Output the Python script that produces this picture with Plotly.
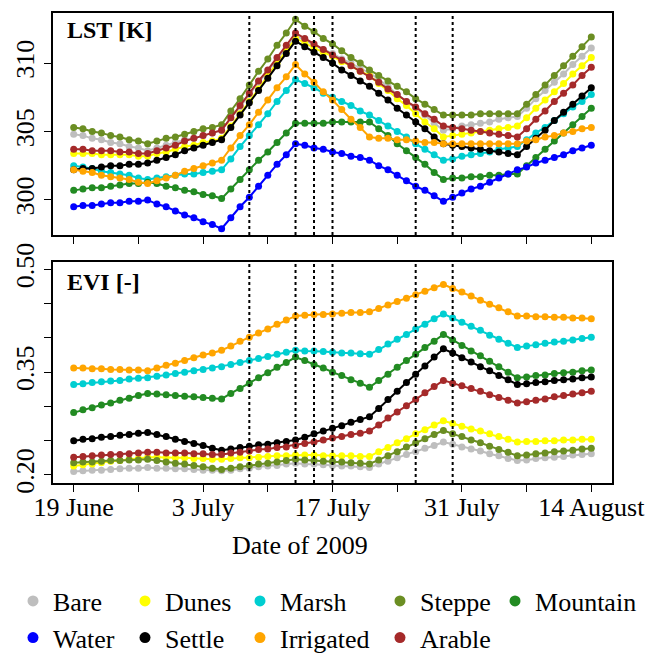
import pandas as pd
import plotly.graph_objects as go

# ---- time axis -------------------------------------------------------------
start = "2009-06-19"
end = "2009-08-14"
dates = pd.date_range(start, end, freq="D")

classes = ["Bare", "Dunes", "Marsh", "Steppe", "Mountain",
           "Water", "Settle", "Irrigated", "Arable"]
colors = ["#BEBEBE", "#FFFF00", "#00CED1", "#6B8E23", "#228B22",
          "#0000FF", "#000000", "#FFA500", "#A52A2A"]

# ---- land surface temperature [K], daily -----------------------------------
lst_bare = [304.8, 304.7, 304.5, 304.4, 304.2, 304.1, 303.9, 303.8,
            303.6, 303.8, 304.0, 304.2, 304.4, 304.5, 304.7, 304.9,
            305.1, 306.0, 306.8, 307.7, 308.6, 309.4, 310.3, 311.1,
            312.0, 311.7, 311.3, 311.0, 310.7, 310.3, 310.0, 309.6,
            309.3, 308.8, 308.3, 307.7, 307.2, 306.7, 306.2, 305.6,
            305.1, 305.2, 305.4, 305.5, 305.6, 305.7, 305.9, 306.0,
            306.1, 306.7, 307.4, 308.0, 308.6, 309.2, 309.9, 310.5, 311.1]
lst_dunes = [303.4, 303.4, 303.4, 303.3, 303.3, 303.3, 303.3, 303.2,
             303.2, 303.4, 303.5, 303.7, 303.9, 304.0, 304.2, 304.3,
             304.5, 305.4, 306.3, 307.2, 308.1, 309.1, 310.0, 310.9,
             311.8, 311.5, 311.1, 310.8, 310.5, 310.1, 309.8, 309.4,
             309.1, 308.5, 308.0, 307.4, 306.9, 306.3, 305.7, 305.2,
             304.6, 304.7, 304.8, 304.9, 305.0, 305.1, 305.2, 305.3,
             305.4, 306.0, 306.7, 307.3, 307.9, 308.5, 309.2, 309.8, 310.4]
lst_marsh = [302.5, 302.4, 302.3, 302.1, 302.0, 301.9, 301.8, 301.6,
             301.5, 301.6, 301.7, 301.8, 301.9, 301.9, 302.0, 302.1,
             302.2, 303.0, 303.9, 304.7, 305.5, 306.3, 307.2, 308.0,
             308.8, 308.5, 308.2, 307.8, 307.5, 307.2, 306.9, 306.5,
             306.2, 305.8, 305.4, 305.0, 304.6, 304.1, 303.7, 303.3,
             302.9, 303.0, 303.2, 303.3, 303.4, 303.5, 303.7, 303.8,
             303.9, 304.4, 304.9, 305.3, 305.8, 306.3, 306.8, 307.2, 307.7]
lst_steppe = [305.3, 305.2, 305.0, 304.9, 304.7, 304.6, 304.4, 304.3,
              304.1, 304.3, 304.5, 304.6, 304.8, 305.0, 305.2, 305.3,
              305.5, 306.5, 307.4, 308.4, 309.4, 310.3, 311.3, 312.2,
              313.2, 312.7, 312.3, 311.8, 311.4, 310.9, 310.4, 310.0,
              309.5, 309.1, 308.7, 308.3, 307.9, 307.4, 307.0, 306.6,
              306.2, 306.2, 306.2, 306.2, 306.3, 306.3, 306.3, 306.3,
              306.3, 307.0, 307.7, 308.4, 309.1, 309.8, 310.5, 311.2, 311.9]
lst_mountain = [300.7, 300.8, 300.9, 300.9, 301.0, 301.1, 301.2, 301.2,
                301.3, 301.2, 301.0, 300.9, 300.7, 300.6, 300.4, 300.3,
                300.1, 300.8, 301.5, 302.2, 302.9, 303.5, 304.2, 304.9,
                305.6, 305.6, 305.6, 305.6, 305.7, 305.7, 305.7, 305.7,
                305.7, 305.2, 304.7, 304.1, 303.6, 303.1, 302.6, 302.0,
                301.5, 301.6, 301.6, 301.7, 301.7, 301.8, 301.8, 301.9,
                301.9, 302.5, 303.1, 303.7, 304.3, 304.9, 305.5, 306.1, 306.7]
lst_water = [299.5, 299.6, 299.6, 299.7, 299.8, 299.8, 299.9, 299.9,
             300.0, 299.7, 299.5, 299.2, 298.9, 298.7, 298.4, 298.2,
             297.9, 298.7, 299.5, 300.2, 301.0, 301.8, 302.6, 303.3,
             304.1, 304.0, 303.8, 303.7, 303.5, 303.4, 303.2, 303.1,
             302.9, 302.5, 302.2, 301.8, 301.4, 301.0, 300.7, 300.3,
             299.9, 300.2, 300.5, 300.8, 301.0, 301.3, 301.6, 301.9,
             302.2, 302.4, 302.7, 302.9, 303.1, 303.3, 303.6, 303.8, 304.0]
lst_settle = [302.2, 302.3, 302.3, 302.4, 302.5, 302.5, 302.6, 302.6,
              302.7, 302.9, 303.1, 303.3, 303.6, 303.8, 304.0, 304.2,
              304.4, 305.3, 306.2, 307.1, 308.0, 308.9, 309.8, 310.7,
              311.6, 311.2, 310.8, 310.4, 310.0, 309.5, 309.1, 308.7,
              308.3, 307.8, 307.3, 306.7, 306.2, 305.7, 305.2, 304.6,
              304.1, 304.0, 303.9, 303.8, 303.7, 303.6, 303.5, 303.4,
              303.3, 303.9, 304.5, 305.1, 305.8, 306.4, 307.0, 307.6, 308.2]
lst_irrigated = [302.2, 302.1, 302.0, 301.8, 301.7, 301.6, 301.5, 301.3,
                 301.2, 301.4, 301.6, 301.8, 302.1, 302.3, 302.5, 302.7,
                 302.9, 303.8, 304.7, 305.5, 306.4, 307.3, 308.2, 309.0,
                 309.9, 309.2, 308.6, 307.9, 307.3, 306.6, 305.9, 305.3,
                 304.6, 304.5, 304.5, 304.4, 304.4, 304.3, 304.2, 304.2,
                 304.1, 304.1, 304.1, 304.1, 304.1, 304.1, 304.1, 304.1,
                 304.1, 304.3, 304.4, 304.6, 304.7, 304.9, 305.0, 305.2, 305.3]
lst_arable = [303.7, 303.7, 303.6, 303.6, 303.6, 303.5, 303.5, 303.4,
              303.4, 303.6, 303.8, 304.0, 304.3, 304.5, 304.7, 304.9,
              305.1, 306.0, 306.9, 307.8, 308.7, 309.5, 310.4, 311.3,
              312.2, 311.8, 311.4, 311.0, 310.6, 310.2, 309.8, 309.4,
              309.0, 308.6, 308.1, 307.7, 307.2, 306.8, 306.3, 305.9,
              305.4, 305.3, 305.2, 305.1, 305.0, 304.9, 304.8, 304.7,
              304.6, 305.2, 305.9, 306.5, 307.2, 307.8, 308.4, 309.1, 309.7]

# ---- enhanced vegetation index [-], daily (no water series) ----------------
evi_bare = [0.205, 0.206, 0.207, 0.207, 0.208, 0.209, 0.210, 0.210,
            0.211, 0.210, 0.210, 0.209, 0.209, 0.208, 0.207, 0.207,
            0.206, 0.207, 0.209, 0.210, 0.212, 0.213, 0.214, 0.216,
            0.217, 0.216, 0.216, 0.215, 0.214, 0.213, 0.213, 0.212,
            0.211, 0.216, 0.220, 0.225, 0.230, 0.234, 0.239, 0.243,
            0.248, 0.245, 0.241, 0.238, 0.235, 0.231, 0.228, 0.224,
            0.221, 0.222, 0.224, 0.225, 0.226, 0.227, 0.229, 0.230, 0.231]
evi_dunes = [0.213, 0.215, 0.216, 0.218, 0.220, 0.221, 0.223, 0.224,
             0.226, 0.226, 0.225, 0.225, 0.225, 0.224, 0.224, 0.223,
             0.223, 0.224, 0.225, 0.225, 0.226, 0.227, 0.228, 0.228,
             0.229, 0.229, 0.229, 0.228, 0.228, 0.228, 0.228, 0.227,
             0.227, 0.234, 0.240, 0.247, 0.253, 0.260, 0.266, 0.273,
             0.279, 0.275, 0.271, 0.267, 0.264, 0.260, 0.256, 0.252,
             0.248, 0.249, 0.249, 0.250, 0.250, 0.251, 0.251, 0.252, 0.252]
evi_marsh = [0.332, 0.333, 0.335, 0.336, 0.337, 0.338, 0.340, 0.341,
             0.342, 0.344, 0.346, 0.348, 0.350, 0.352, 0.354, 0.356,
             0.358, 0.361, 0.364, 0.367, 0.370, 0.373, 0.376, 0.379,
             0.382, 0.381, 0.381, 0.380, 0.379, 0.378, 0.378, 0.377,
             0.376, 0.383, 0.391, 0.398, 0.405, 0.413, 0.420, 0.428,
             0.435, 0.429, 0.423, 0.417, 0.411, 0.404, 0.398, 0.392,
             0.386, 0.388, 0.390, 0.392, 0.394, 0.395, 0.397, 0.399, 0.401]
evi_steppe = [0.218, 0.219, 0.219, 0.220, 0.221, 0.221, 0.222, 0.222,
              0.223, 0.221, 0.219, 0.217, 0.216, 0.214, 0.212, 0.210,
              0.208, 0.210, 0.212, 0.214, 0.216, 0.217, 0.219, 0.221,
              0.223, 0.222, 0.221, 0.220, 0.220, 0.219, 0.218, 0.217,
              0.216, 0.222, 0.228, 0.234, 0.241, 0.247, 0.253, 0.259,
              0.265, 0.260, 0.256, 0.251, 0.247, 0.242, 0.237, 0.233,
              0.228, 0.229, 0.231, 0.232, 0.234, 0.235, 0.236, 0.238, 0.239]
evi_mountain = [0.291, 0.295, 0.298, 0.302, 0.305, 0.309, 0.312, 0.316,
                0.319, 0.318, 0.317, 0.316, 0.315, 0.314, 0.313, 0.312,
                0.311, 0.319, 0.326, 0.334, 0.342, 0.349, 0.357, 0.364,
                0.372, 0.367, 0.361, 0.356, 0.350, 0.345, 0.339, 0.334,
                0.328, 0.338, 0.347, 0.357, 0.367, 0.376, 0.386, 0.395,
                0.405, 0.397, 0.389, 0.381, 0.374, 0.366, 0.358, 0.350,
                0.342, 0.343, 0.345, 0.346, 0.348, 0.349, 0.350, 0.352, 0.353]
evi_settle = [0.250, 0.252, 0.253, 0.255, 0.256, 0.258, 0.259, 0.261,
              0.262, 0.259, 0.256, 0.252, 0.249, 0.246, 0.243, 0.239,
              0.236, 0.238, 0.240, 0.242, 0.244, 0.245, 0.247, 0.249,
              0.251, 0.255, 0.260, 0.264, 0.268, 0.272, 0.277, 0.281,
              0.285, 0.297, 0.310, 0.322, 0.335, 0.347, 0.359, 0.372,
              0.384, 0.378, 0.371, 0.365, 0.358, 0.352, 0.345, 0.339,
              0.332, 0.333, 0.335, 0.336, 0.338, 0.339, 0.340, 0.342, 0.343]
evi_irrigated = [0.356, 0.356, 0.355, 0.355, 0.354, 0.354, 0.353, 0.353,
                 0.352, 0.356, 0.360, 0.363, 0.367, 0.371, 0.375, 0.378,
                 0.382, 0.388, 0.395, 0.401, 0.407, 0.413, 0.420, 0.426,
                 0.432, 0.433, 0.434, 0.434, 0.435, 0.436, 0.437, 0.437,
                 0.438, 0.443, 0.448, 0.453, 0.458, 0.463, 0.468, 0.473,
                 0.478, 0.472, 0.467, 0.461, 0.455, 0.449, 0.444, 0.438,
                 0.432, 0.432, 0.431, 0.431, 0.430, 0.430, 0.429, 0.429, 0.428]
evi_arable = [0.226, 0.227, 0.228, 0.229, 0.230, 0.230, 0.231, 0.232,
              0.233, 0.233, 0.232, 0.232, 0.232, 0.231, 0.231, 0.230,
              0.230, 0.232, 0.233, 0.235, 0.237, 0.238, 0.240, 0.241,
              0.243, 0.246, 0.248, 0.251, 0.254, 0.256, 0.259, 0.261,
              0.264, 0.273, 0.283, 0.292, 0.301, 0.310, 0.320, 0.329,
              0.338, 0.334, 0.330, 0.326, 0.322, 0.317, 0.313, 0.309,
              0.305, 0.307, 0.309, 0.311, 0.314, 0.316, 0.318, 0.320, 0.322]

lst_series = [lst_bare, lst_dunes, lst_marsh, lst_steppe, lst_mountain,
              lst_water, lst_settle, lst_irrigated, lst_arable]
evi_series = [evi_bare, evi_dunes, evi_marsh, evi_steppe, evi_mountain,
              None, evi_settle, evi_irrigated, evi_arable]

# dates marked with dotted vertical lines
event_dates = ["2009-07-08", "2009-07-13", "2009-07-15",
               "2009-07-17", "2009-07-26", "2009-07-30"]

# axis ticks
week_ticks = pd.date_range(start, end, freq="7D")
week_labels = ["19 June", "", "3 July", "", "17 July", "", "31 July", "", "14 August"]
lst_ticks = [300, 305, 310]
lst_labels = ["300", "305", "310"]
evi_ticks = [0.20, 0.25, 0.30, 0.35, 0.40, 0.45, 0.50]
evi_labels = ["0.20", "", "", "0.35", "", "", "0.50"]

FONT = "Liberation Serif"

fig = go.Figure()

for name, col, lst, evi in zip(classes, colors, lst_series, evi_series):
    fig.add_trace(go.Scatter(
        x=dates, y=lst, mode="lines+markers", name=name, showlegend=False,
        line=dict(color=col, width=2), marker=dict(color=col, size=7),
        xaxis="x", yaxis="y"))
    if evi is not None:
        fig.add_trace(go.Scatter(
            x=dates, y=evi, mode="lines+markers", name=name, showlegend=False,
            line=dict(color=col, width=2), marker=dict(color=col, size=7),
            xaxis="x2", yaxis="y2"))

# legend: one small legend per entry, laid out in two rows below the panels
legend_rows = [["Bare", "Dunes", "Marsh", "Steppe", "Mountain"],
               ["Water", "Settle", "Irrigated", "Arable"]]
col_x = [0.0201, 0.1935, 0.3715, 0.5882, 0.7663]
row_y = [0.0824, 0.0265]

legend_layout = {}
k = 0
for r, row in enumerate(legend_rows):
    for c, name in enumerate(row):
        k += 1
        key = "legend" if k == 1 else f"legend{k}"
        col = colors[classes.index(name)]
        fig.add_trace(go.Scatter(
            x=[None], y=[None], mode="markers", name=name,
            marker=dict(color=col, size=11), legend=key, showlegend=True))
        legend_layout[key] = dict(
            x=col_x[c], y=row_y[r], xanchor="left", yanchor="middle",
            xref="container", yref="container", bgcolor="rgba(0,0,0,0)",
            font=dict(family=FONT, size=26, color="black"),
            itemwidth=30, borderwidth=0)

# dotted vertical markers in both panels
for d in event_dates:
    for xr, yr in (("x", "y domain"), ("x2", "y2 domain")):
        fig.add_shape(type="line", xref=xr, yref=yr, x0=d, x1=d, y0=0, y1=1,
                      line=dict(color="black", width=2, dash="dot"))

x_range = [pd.Timestamp(start) - pd.Timedelta(days=2.24),
           pd.Timestamp(end) + pd.Timedelta(days=2.24)]

axis_common = dict(showline=True, mirror=True, linewidth=2, linecolor="black",
                   ticks="outside", ticklen=7, tickwidth=1, tickcolor="black",
                   showgrid=False, zeroline=False, automargin=False,
                   tickfont=dict(family=FONT, size=26, color="black"))

fig.update_layout(
    template="none",
    width=646, height=655,
    margin=dict(l=53, r=34, t=13, b=172, autoexpand=False),
    paper_bgcolor="white", plot_bgcolor="white",
    font=dict(family=FONT, color="black"),
    xaxis=dict(domain=[0, 1], anchor="y", range=x_range,
               tickmode="array", tickvals=week_ticks, showticklabels=False,
               **axis_common),
    yaxis=dict(domain=[0.5277, 1], anchor="x", range=[297.44, 313.66],
               tickmode="array", tickvals=lst_ticks, ticktext=lst_labels,
               tickangle=-90, **axis_common),
    xaxis2=dict(domain=[0, 1], anchor="y2", range=x_range,
                tickmode="array", tickvals=week_ticks, ticktext=week_labels,
                tickangle=0, ticklabelstandoff=-7, **axis_common),
    yaxis2=dict(domain=[0, 0.4702], anchor="x2", range=[0.1883, 0.5107],
                tickmode="array", tickvals=evi_ticks, ticktext=evi_labels,
                tickangle=-90, **axis_common),
    annotations=[
        dict(text="<b>LST [K]</b>", xref="paper", yref="paper",
             x=0.0215, y=0.9628, xanchor="left", yanchor="middle",
             showarrow=False, font=dict(family=FONT, size=24, color="black")),
        dict(text="<b>EVI [-]</b>", xref="paper", yref="paper",
             x=0.0215, y=0.4287, xanchor="left", yanchor="middle",
             showarrow=False, font=dict(family=FONT, size=24, color="black")),
        dict(text="Date of 2009", xref="paper", yref="paper",
             x=0.4419, y=-0.133, xanchor="center", yanchor="middle",
             showarrow=False, font=dict(family=FONT, size=26, color="black")),
    ],
    **legend_layout,
)

fig.write_html("out.html")
